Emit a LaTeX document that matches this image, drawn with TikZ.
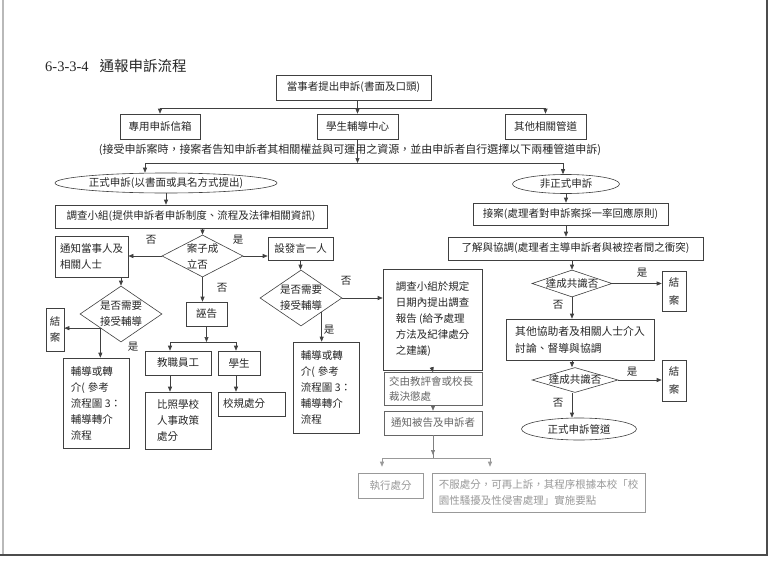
\documentclass[tikz,border=0pt]{standalone}
\usepackage{fontspec}
\setmainfont{Noto Sans CJK TC}
\newfontfamily\serif{Liberation Serif}
\usetikzlibrary{shapes.geometric,arrows.meta,calc}
\begin{document}
\begin{tikzpicture}[x=1pt,y=-1pt,
  font=\fontsize{10.5}{16}\selectfont,
  ln/.style={draw=black!75, line width=0.6pt},
  arr/.style={ln, -{Triangle[length=5pt,width=4pt]}},
  bx/.style={draw=black!75, line width=0.6pt, inner sep=1pt, text=black!85, align=center},
  bxl/.style={bx, align=left},
  dia/.style={draw=black!75, line width=0.6pt, diamond, inner sep=0pt},
  ell/.style={draw=black!75, line width=0.6pt, ellipse, inner sep=0pt},
  txt/.style={text=black!85, inner sep=0pt, align=left},
  lab/.style={text=black!85, inner sep=0pt},
  faint/.style={draw=black!40, text=black!40},
  mid/.style={draw=black!60, text=black!60},
]
\useasboundingbox (0,0) rectangle (772,562);
\fill[white] (0,0) rectangle (772,562);
% page frame
\draw[gray!55, line width=1.2pt] (3,0) -- (3,554);
\draw[black!70, line width=1.6pt] (767,0) -- (767,555) -- (0,555);

% title
\node[anchor=west, text=black!85, inner sep=0pt] (title) at (45,66)
  {\fontsize{14.5}{16}\selectfont{\serif 6-3-3-4}\hspace{11pt}通報申訴流程};

% top
\node[bx, minimum width=155, minimum height=25] (top) at (353.5,87.5) {當事者提出申訴(書面及口頭)};
\node[bx, minimum width=80, minimum height=25] (mail) at (160,126.5) {專用申訴信箱};
\node[bx, minimum width=81, minimum height=25] (counsel) at (357.5,126.5) {學生輔導中心};
\node[bx, minimum width=81, minimum height=25] (other) at (545.5,126.5) {其他相關管道};
\coordinate (h1) at (0,108);
\draw[ln] (counsel |- top.south) -- (counsel |- h1);
\draw[ln] (mail |- h1) -- (other |- h1);
\draw[arr] (mail |- h1) -- (mail.north);
\draw[arr] (counsel |- h1) -- (counsel.north);
\draw[arr] (other |- h1) -- (other.north);

% note
\coordinate (h2) at (0,163);
\draw[arr] (counsel.south) -- (counsel |- h2);
\node[lab, font=\fontsize{11}{13}\selectfont] (note) at (350,150)
  {(接受申訴案時，接案者告知申訴者其相關權益與可運用之資源，並由申訴者自行選擇以下兩種管道申訴)};

% ellipses
\node[ell, minimum width=222, minimum height=20] (formal) at (166,183) {};
\node[lab] (formalt) at (formal) {正式申訴(以書面或具名方式提出)};
\node[ell, minimum width=107, minimum height=19] (informal) at (566,184) {};
\node[lab] (informalt) at (informal) {非正式申訴};
\coordinate (fa) at (145,163);
\coordinate (fb) at (563,163);
\draw[ln] (fa) -- (fb);
\draw[arr] (fa) -- (fa |- formal.north);
\draw[arr] (fb) -- (fb |- informal.north);

% formal branch
\node[bx, minimum width=272, minimum height=23] (inv) at (191,216.5) {調查小組(提供申訴者申訴制度、流程及法律相關資訊)};
\draw[arr] (formal.south) -- (formal.south |- inv.north);

\node[bxl, minimum width=73, minimum height=41] (notify) at (91.5,256.5) {通知當事人及\\相關人士};
\node[dia, minimum width=81, minimum height=42] (diaA) at (202.5,256) {};
\node[txt] (diaAt) at (diaA) {案子成\\立否};
\node[bx, minimum width=65, minimum height=23] (spk) at (300.5,248.5) {設發言一人};
\draw[arr] (diaA |- inv.south) -- (diaA.north);
\draw[arr] (diaA.west) -- (diaA.west -| notify.east);
\draw[arr] (diaA.east) -- (diaA.east -| spk.west);
\node[lab] (noA) at (151,240) {否};
\node[lab] (yesA) at (238,240) {是};
\node[lab] (noA2) at (222,288) {否};

\node[bx, minimum width=41, minimum height=24] (false) at (206.5,314) {誣告};
\draw[arr] (diaA.south) -- (diaA.south |- false.north);
\node[bx, minimum width=66, minimum height=24] (staff) at (178,363) {教職員工};
\node[bx, minimum width=42, minimum height=24] (student) at (239,363) {學生};
\node[bxl, minimum width=66, minimum height=57] (staffpen) at (178,420.5) {比照學校\\人事政策\\處分};
\node[bxl, minimum width=67, minimum height=24, text width=57] (studpen) at (251.5,404) {校規處分};
\coordinate (h3) at (0,342);
\coordinate (sa) at (170,342);
\coordinate (sb) at (236,342);
\draw[arr] (false.south |- false.south) -- (false.south |- h3);
\draw[ln] (sa) -- (sb);
\draw[arr] (sa) -- (sa |- staff.north);
\draw[arr] (sb) -- (sb |- student.north);
\draw[arr] (sa |- staff.south) -- (sa |- staffpen.north);
\draw[arr] (sb |- student.south) -- (sb |- studpen.north);

% left counselling diamond
\node[dia, minimum width=82, minimum height=56] (diaB) at (121,314) {};
\node[txt] (diaBt) at (diaB) {是否需要\\接受輔導};
\draw[arr] (diaB.north |- notify.south) -- (diaB.north);
\node[bx, minimum width=18, minimum height=43] (end2) at (55,329.5) {結\\案};
\draw[arr] (diaB.south west) -- (diaB.south west -| end2.east);
\node[lab] (yesB) at (133,347) {是};
\node[bxl, minimum width=66, minimum height=90] (coun1) at (96,403) {輔導或轉\\介(\hspace{3pt}參考\\流程圖 3：\\輔導轉介\\流程};
\draw[arr] (diaB.south west) -- (diaB.south west |- coun1.north);

% middle counselling diamond
\node[dia, minimum width=82, minimum height=56] (diaC) at (301,298) {};
\node[txt] (diaCt) at (diaC) {是否需要\\接受輔導};
\draw[arr] (spk.south) -- (spk.south |- diaC.north);
\node[lab] (noC) at (346,281) {否};
\node[lab] (yesC) at (329,330) {是};
\node[bxl, minimum width=66, minimum height=91] (coun2) at (326,387.5) {輔導或轉\\介(\hspace{3pt}參考\\流程圖 3：\\輔導轉介\\流程};
\draw[arr] (diaC.south east) -- (diaC.south east |- coun2.north);

% investigation report chain
\node[bxl, minimum width=99, minimum height=101] (inv2) at (432.5,319.5) {調查小組於規定\\日期內提出調查\\報告 (給予處理\\方法及紀律處分\\之建議)};
\draw[arr] (diaC.east) -- (diaC.east -| inv2.west);
\node[bxl, mid, minimum width=98, minimum height=33, font=\fontsize{10.5}{15}\selectfont, text width=88] (dec) at (433,389) {交由教評會或校長\\裁決懲處};
\node[bx, mid, minimum width=98, minimum height=24] (both) at (433,423) {通知被告及申訴者};
\draw[arr] (inv2.south) -- (dec.north);
\draw[arr, draw=black!60] (dec.south) -- (both.north);
\coordinate (h4) at (0,458);
\coordinate (ea) at (382,458);
\coordinate (eb) at (490,458);
\draw[ln, draw=black!50] (both.south) -- (both.south |- h4);
\draw[arr, draw=black!50] (both.south) -- ($(both.south |- h4)+(0,-3)$);
\draw[ln, draw=black!40] (ea) -- (eb);
\node[bx, faint, minimum width=65, minimum height=25] (exec) at (390.5,485.5) {執行處分};
\node[bxl, faint, minimum width=213, minimum height=39] (appeal) at (538.5,492.5) {不服處分，可再上訴，其程序根據本校「校\\園性騷擾及性侵害處理」實施要點};
\draw[arr, draw=black!40] (ea) -- ($(ea |- exec.north)+(0,-6)$);
\draw[arr, draw=black!40] (eb) -- ($(eb |- appeal.north)+(0,-6)$);

% informal branch
\node[bx, minimum width=195, minimum height=22] (accept) at (570.5,214) {接案(處理者對申訴案採一率回應原則)};
\node[bx, minimum width=255, minimum height=23] (coord) at (575.5,248.5) {了解與協調(處理者主導申訴者與被控者間之衝突)};
\draw[arr] (informal.south) -- (informal.south |- accept.north);
\draw[arr] (informal.south |- accept.south) -- (informal.south |- coord.north);
\node[dia, minimum width=80, minimum height=27] (dia1) at (572,283.5) {};
\node[lab] (dia1t) at (dia1) {達成共識否};
\draw[arr] (dia1 |- coord.south) -- (dia1.north);
\node[bx, minimum width=24, minimum height=40, font=\fontsize{10.5}{18}\selectfont] (end1) at (674,291) {結\\案};
\draw[arr] (dia1.east) -- (dia1.east -| end1.west);
\node[lab] (yes1) at (642,273) {是};
\node[lab] (no1) at (558,305) {否};
\node[bxl, minimum width=148, minimum height=41, font=\fontsize{10.8}{17}\selectfont] (help) at (580,339.5) {其他協助者及相關人士介入\\討論、督導與協調};
\draw[arr] (dia1.south) -- (dia1.south |- help.north);
\node[dia, minimum width=86, minimum height=25] (dia2) at (575,380) {};
\node[lab] (dia2t) at (dia2) {達成共識否};
\draw[arr] (dia1.south |- help.south) -- (dia1.south |- dia2.north);
\node[bx, minimum width=24, minimum height=41, font=\fontsize{10.5}{18}\selectfont] (end3) at (674,380.5) {結\\案};
\draw[arr] (dia2.east) -- (dia2.east -| end3.west);
\node[lab] (yes2) at (632,372) {是};
\node[lab] (no2) at (558,403) {否};
\node[ell, minimum width=115, minimum height=22] (fchan) at (579,429) {};
\node[lab] (fchant) at (fchan) {正式申訴管道};
\draw[arr] (dia1.south |- dia2.south) -- (dia1.south |- fchan.north);
\end{tikzpicture}
\end{document}
